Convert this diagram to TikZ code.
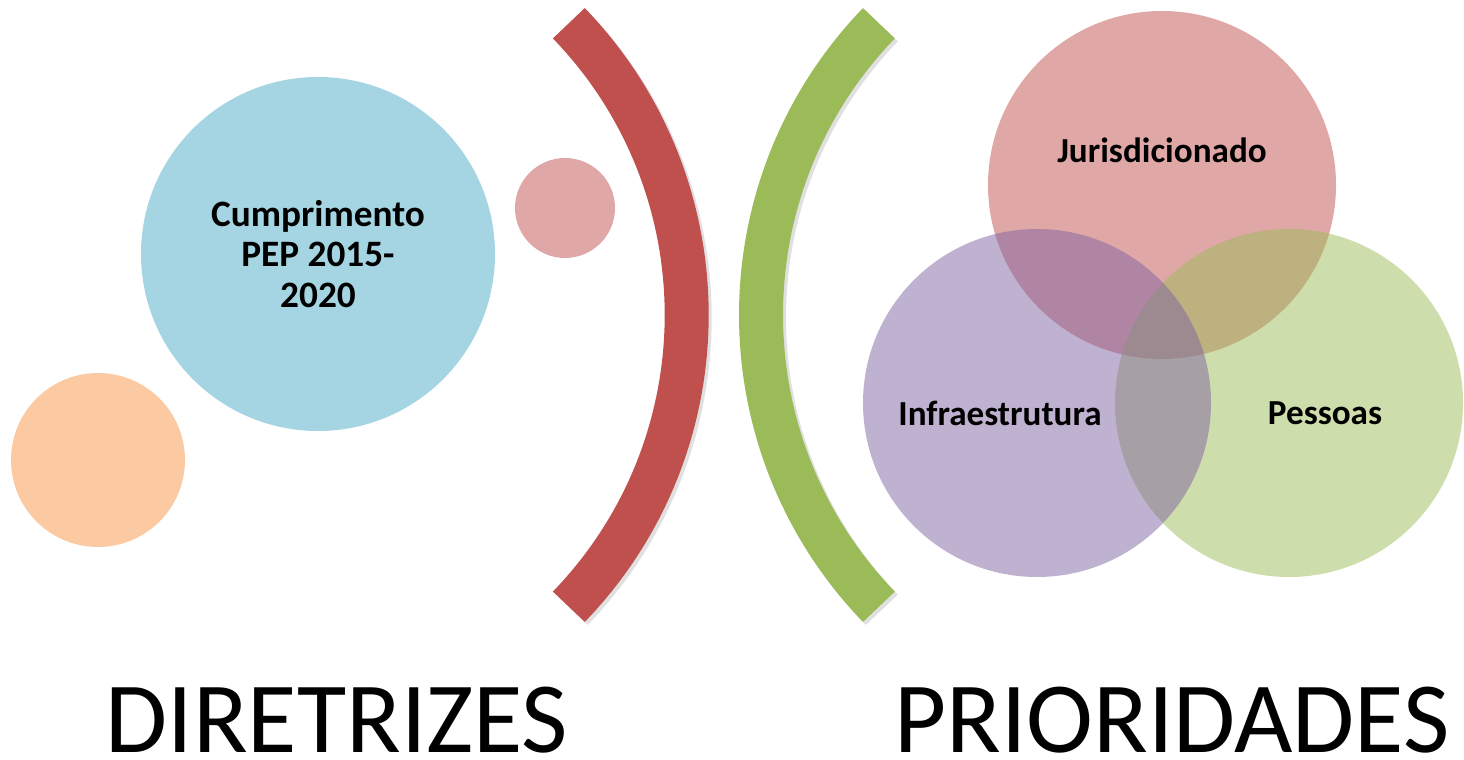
\documentclass[tikz,border=0pt]{standalone}
\usepackage{fontspec}
\setmainfont{Carlito}
\usepackage{xcolor}
\usepackage{tikz}
\usetikzlibrary{positioning}
\definecolor{accred}{HTML}{C0504D}
\definecolor{accgreen}{HTML}{9BBB59}
\definecolor{accpurple}{HTML}{8064A2}
\definecolor{accblue}{HTML}{4BACC6}
\definecolor{accorange}{HTML}{F79646}

\begin{document}
\begin{tikzpicture}[
    bubble/.style={circle, draw=none, inner sep=0pt, fill opacity=0.5, text opacity=1},
    lbl/.style={font=\fontsize{10}{11.4}\selectfont\bfseries, align=center, inner sep=0pt},
    title/.style={font=\fontsize{28.7}{30}\selectfont, anchor=base, inner sep=0pt, text depth=0pt},
    band/.style={line width=0.44cm},
    bandshadow/.style={line width=0.44cm, black, opacity=0.12}
  ]
  \useasboundingbox (0,0) rectangle (14.64,7.59);

  % left side
  \node[bubble, fill=accorange, minimum size=1.74cm] (orange) at (0.98,2.99) {};
  \node[bubble, fill=accblue, minimum size=3.54cm] (pep) at (3.18,5.05) {};
  \node[bubble, fill=accred, minimum size=1.00cm] (dot) at (5.65,5.51) {};
  \node[lbl, font=\fontsize{10.6}{11.6}\selectfont\bfseries] (peptxt) at (pep.center) {Cumprimento\\PEP 2015-\\2020};

  % the two brackets
  \coordinate (redc) at (2.667,4.44);
  \coordinate (greenc) at (11.81,4.44);
  \draw[bandshadow] ([shift={(0.03,-0.03)}]redc) ++(-44:4.2) arc[start angle=-44, end angle=44, radius=4.2];
  \draw[bandshadow] ([shift={(0.03,-0.03)}]greenc) ++(136:4.2) arc[start angle=136, end angle=224, radius=4.2];
  \draw[band, accred] (redc) ++(-44:4.2) arc[start angle=-44, end angle=44, radius=4.2];
  \draw[band, accgreen] (greenc) ++(136:4.2) arc[start angle=136, end angle=224, radius=4.2];

  % right side
  \node[bubble, fill=accred, minimum size=3.48cm] (jur) at (11.62,5.74) {};
  \node[bubble, fill=accgreen, minimum size=3.48cm] (pes) at (12.89,3.56) {};
  \node[bubble, fill=accpurple, minimum size=3.48cm] (inf) at (10.37,3.56) {};
  \node[lbl] (jurtxt) at ([yshift=0.35cm]jur.center) {Jurisdicionado};
  \node[lbl] (inftxt) at ([shift={(-0.37,-0.10)}]inf.center) {Infraestrutura};
  \node[lbl] (pestxt) at ([shift={(0.36,-0.10)}]pes.center) {Pessoas};

  \node[title] (dir) at (3.37,0.07) {DIRETRIZES};
  \node[title] (pri) at (11.72,0.07) {PRIORIDADES};
\end{tikzpicture}
\end{document}
